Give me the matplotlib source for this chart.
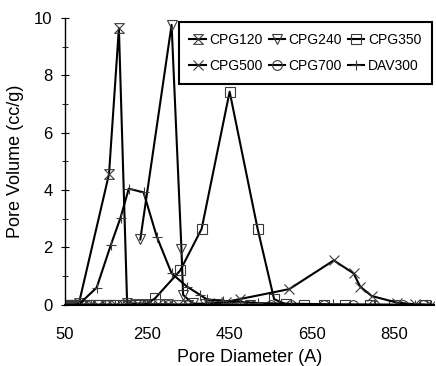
import matplotlib
matplotlib.use("Agg")
import matplotlib.pyplot as plt
import numpy as np
from matplotlib.path import Path

plt.rcParams['font.family'] = ['Liberation Sans', 'DejaVu Sans']

nan = np.nan

cpg120_x = [52, 58, 64, 70, 76, 84, 157, 181, 201, 225, 250, 275, 300, 325, 350, 400, 450]
cpg120_y = [0, 0, 0, 0, 0, 0.06, 4.56, 9.64, 0.06, 0.04, 0.03, 0.02, 0.02, 0.01, 0.01, 0, 0]

cpg240_x = [55, 65, 75, 90, 110, 130, 150, 170, 197, 215, 233, 309, 333, 337, 360, 390, 420, 460, 500]
cpg240_y = [0, 0, 0, 0, 0, 0, 0, 0, 0, nan, 2.28, 9.76, 1.93, 0.35, 0.05, 0.03, 0.02, 0.01, 0]

cpg350_x = [60, 80, 100, 130, 160, 190, 220, 245, 269, 330, 382, 450, 518, 558, 587, 630, 680, 730, 790, 850, 924]
cpg350_y = [0, 0, 0, 0, 0, 0, 0, 0, 0.23, 1.2, 2.65, 7.43, 2.65, 0.2, 0.02, 0, 0, 0, 0, 0, 0]

cpg500_x = [55, 62, 70, 80, 95, 110, 130, 150, 175, 200, 230, 260, 300, 350, 400, 440, 474, 595, 703, 751, 767, 795, 856, 900, 940]
cpg500_y = [0, 0, 0, 0, 0, 0, 0, 0, 0, 0, 0, 0, 0, 0, 0.05, 0.1, 0.2, 0.55, 1.55, 1.1, 0.64, 0.31, 0.08, 0.02, 0]

cpg700_x = [60, 100, 150, 200, 250, 300, 350, 400, 450, 500, 550, 600, 679, 750, 800, 872, 920]
cpg700_y = [0] * len(cpg700_x)

dav300_x = [55, 62, 70, 84, 127, 161, 185, 205, 241, 273, 309, 346, 378, 394, 433, 474, 520, 600, 700, 800, 900, 940]
dav300_y = [0, 0, 0, 0.02, 0.6, 2.07, 3.04, 4.05, 3.92, 2.38, 1.1, 0.64, 0.35, 0.2, 0.12, 0.1, 0.06, 0.04, 0.02, 0.01, 0, 0]

# hourglass marker for CPG120
hourglass = Path([(-1, 1), (1, 1), (-1, -1), (1, -1), (-1, 1)],
                 [Path.MOVETO, Path.LINETO, Path.LINETO, Path.LINETO, Path.CLOSEPOLY])

fig = plt.figure(figsize=(4.36, 3.66), dpi=100)
ax = fig.add_axes([0.149, 0.167, 0.846, 0.784])

common = dict(color='black', lw=1.5, markersize=7, markerfacecolor='none',
              markeredgecolor='#3a3a3a', markeredgewidth=0.8)

l120, = ax.plot(cpg120_x, cpg120_y, marker=hourglass, label='CPG120', **common)
l240, = ax.plot(cpg240_x, cpg240_y, marker='v', label='CPG240', **common)
l350, = ax.plot(cpg350_x, cpg350_y, marker='s', label='CPG350', **common)
l500, = ax.plot(cpg500_x, cpg500_y, marker='x', label='CPG500', **common)
l700, = ax.plot(cpg700_x, cpg700_y, marker='o', label='CPG700', **common)
ldav, = ax.plot(dav300_x, dav300_y, marker='+', label='DAV300', **common)

ax.set_xlim(50, 946)
ax.set_ylim(0, 10)
ax.set_xticks([50, 250, 450, 650, 850])
ax.set_yticks([0, 2, 4, 6, 8, 10])
ax.set_yticks([1, 3, 5, 7, 9], minor=True)
ax.tick_params(axis='x', length=0, labelsize=12, pad=16)
ax.tick_params(axis='y', which='major', direction='inout', length=6, labelsize=12, pad=6)
ax.tick_params(axis='y', which='minor', direction='inout', length=4)

ax.spines['top'].set_visible(False)
ax.spines['right'].set_visible(False)
ax.spines['left'].set_linewidth(1.0)
ax.spines['bottom'].set_linewidth(1.5)

ax.set_xlabel('Pore Diameter (A)', fontsize=13, labelpad=5)
ax.set_ylabel('Pore Volume (cc/g)', fontsize=13, labelpad=7)

handles = [l120, l500, l240, l700, l350, ldav]
leg = fig.legend(handles=handles, ncol=3, loc='upper right',
                 bbox_to_anchor=(0.990, 0.939), fontsize=10, frameon=True,
                 fancybox=False, edgecolor='black', handlelength=1.2,
                 handletextpad=0.25, columnspacing=0.4, borderpad=0.75,
                 labelspacing=0.9, borderaxespad=0, framealpha=1)
leg.get_frame().set_linewidth(1.5)

fig.savefig('out.png', dpi=100)
